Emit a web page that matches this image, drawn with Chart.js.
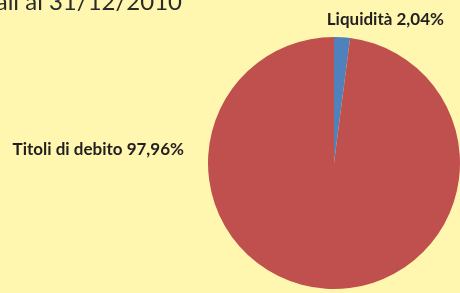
<!DOCTYPE html>
<html>
<head>
<meta charset="utf-8">
<script src="https://cdn.jsdelivr.net/npm/chart.js@4/dist/chart.umd.min.js"></script>
<style>
  html, body { margin: 0; padding: 0; background: #fff6b0; }
  canvas { display: block; }
</style>
</head>
<body>
<canvas id="pie" width="460" height="293"></canvas>
<script>
const categories = ['Liquidità', 'Titoli di debito'];
const values = [2.04, 97.96];
const valueLabels = ['2,04%', '97,96%'];
const titleText = 'ali al 31/12/2010';

const colors = ['#4f81bd', '#c0504d'];

// labels are placed by hand, like in the original image
const labelPlugin = {
    id: 'labels',
    afterDraw(chart) {
        const ctx = chart.ctx;
        ctx.save();
        ctx.fillStyle = '#2a2a2a';
        ctx.font = '400 24px Lato';
        ctx.textBaseline = 'alphabetic';
        // title is cut by the top/left edge in the source
        ctx.textAlign = 'right';
        ctx.fillText(titleText, 182, 10);

        ctx.font = 'bold 17px Lato';
        ctx.fillStyle = '#231f20';
        ctx.fillText(categories[0] + ' ' + valueLabels[0], 444, 25);
        ctx.fillText(categories[1] + ' ' + valueLabels[1], 184, 155);
        ctx.restore();
    }
};

new Chart(document.getElementById('pie').getContext('2d'), {
    type: 'pie',
    data: {
        labels: categories,
        datasets: [{
            data: values,
            backgroundColor: colors,
            borderWidth: 0
        }]
    },
    options: {
        responsive: false,
        animation: false,
        layout: {
            padding: { left: 208, right: 0, top: 37, bottom: 4 }
        },
        plugins: {
            legend: { display: false },
            tooltip: { enabled: false }
        }
    },
    plugins: [labelPlugin]
});
</script>
</body>
</html>
